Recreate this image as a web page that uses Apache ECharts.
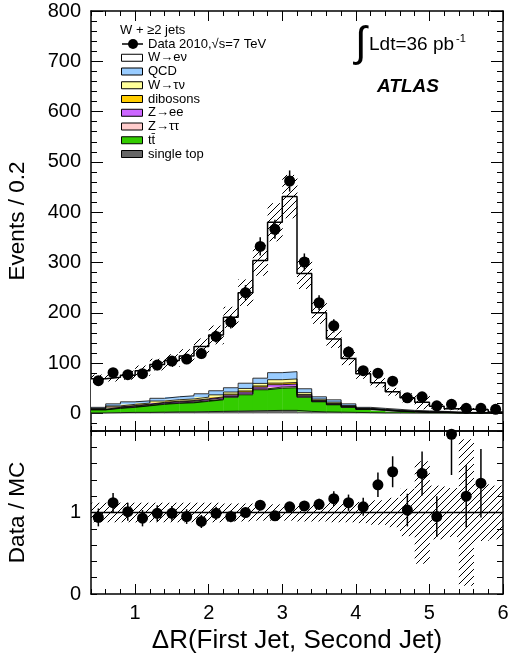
<!DOCTYPE html>
<html><head><meta charset="utf-8">
<script src="https://cdn.jsdelivr.net/npm/echarts@6/dist/echarts.min.js"></script>
<style>html,body{margin:0;padding:0;background:#fff}#c{width:508px;height:664px}</style>
</head><body><div id="c"></div>
<script>
// ---------------- data ----------------
const binLow = [0.4,0.6,0.8,1.0,1.2,1.4,1.6,1.8,2.0,2.2,2.4,2.6,2.8,3.0,3.2,3.4,3.6,3.8,4.0,4.2,4.4,4.6,4.8,5.0,5.2,5.4,5.6,5.8];
const binWidth = 0.2;
const dataCounts = [65,81,77,79,96,104,108,119,153,182,240,332,366,462,301,220,174,122,85,80,64,31,33,15,18,10,10,8];
const dataErr    = [8,9,9,9,10,10,10,11,12,13,15,18,19,21,17,15,13,11,9,9,8,6,6,4,4,3,3,3];
// MC stack, bottom to top
const singleTop = [1,1.5,2,2,2.5,3,3,3.5,4,4.5,5,5.5,6,6,4,3,2.5,2,1.5,1,1,0.8,0.6,0.5,0.4,0.3,0.2,0.2];
const ttbar     = [6,8.5,10,13,15.5,17,18,20.5,23,27.5,32,41.5,44,45,28,20,14.5,10,6.5,5,3,2.2,1.4,1.5,0.6,0.7,0.8,0.3];
const Ztautau   = [0.4,0.7,0.9,0.8,1,1,1.1,1.2,1.4,1.5,1.8,1.8,2.5,2.5,1.3,0.8,0.8,0.5,0.3,0.3,0.3,0.2,0.2,0.1,0.1,0.1,0.1,0];
const Zee       = [0.8,1.3,1.6,1.5,1.8,2,2.1,2.3,2.7,2.9,3.5,3.5,4.6,4.8,2.6,1.5,1.5,1,0.6,0.6,0.6,0.5,0.4,0.3,0.3,0.1,0.1,0.1];
const dibosons  = [0.5,0.9,1.1,1,1.2,1.3,1.4,1.5,1.8,1.9,2.3,2.3,3.1,3.2,1.7,1,1,0.7,0.4,0.4,0.4,0.3,0.3,0.2,0.2,0.1,0.1,0.1];
const Wtaunu    = [1.1,2,2.4,2.2,2.6,2.9,3.1,3.3,4,4.2,5,5,6.8,7,3.7,2.2,2.2,1.5,0.9,0.9,0.9,0.7,0.7,0.4,0.4,0.2,0.2,0.1];
const QCD       = [2.2,4.1,5,4.5,5.4,5.8,6.3,6.7,8.1,8.5,10.4,10.4,14,14.5,7.7,4.5,4.5,3.3,1.8,1.8,1.8,1.3,1.4,1,1,0.5,0.5,0.2];
const Wenu      = [57,53,53,60,67,72,79,94,111,140,180,234,299,348,229,167,121,90,67,51,35,25,17,10,6,6,5,2];
const mcRelUnc  = [0.12,0.12,0.12,0.12,0.12,0.12,0.12,0.12,0.12,0.11,0.11,0.1,0.1,0.1,0.11,0.11,0.12,0.12,0.13,0.15,0.18,0.29,0.63,0.33,0.3,0.9,0.35,0.33];
const ratio     = [0.94,1.12,1.01,0.93,0.99,0.99,0.95,0.89,0.99,0.95,1.00,1.09,0.96,1.07,1.08,1.10,1.17,1.12,1.07,1.34,1.50,1.03,1.48,0.95,1.96,1.20,1.36,null];
const ratioErr  = [0.11,0.12,0.11,0.10,0.10,0.09,0.09,0.08,0.08,0.07,0.06,0.06,0.05,0.05,0.06,0.07,0.09,0.10,0.11,0.15,0.19,0.20,0.27,0.25,0.50,0.38,0.42,null];

const topYLabels = [0,100,200,300,400,500,600,700,800];
const topYMinor  = [-20,20,40,60,80,120,140,160,180,220,240,260,280,320,340,360,380,420,440,460,480,520,540,560,580,620,640,660,680,720,740,760,780];
const botYLabels = [0,1];
const botYTicks  = [0,0.2,0.4,0.6,0.8,1,1.2,1.4,1.6,1.8,2];
const xMajor = [1,2,3,4,5,6];
const xMinor = [0.4,0.6,0.8,1.2,1.4,1.6,1.8,2.2,2.4,2.6,2.8,3.2,3.4,3.6,3.8,4.2,4.4,4.6,4.8,5.2,5.4,5.6,5.8];

const stackDefs = [
  {name:'single top', vals: singleTop, color:'#666666'},
  {name:'tt\u0304',   vals: ttbar,     color:'#33cc00'},
  {name:'Z\u2192\u03c4\u03c4', vals: Ztautau, color:'#ffcccc'},
  {name:'Z\u2192ee',  vals: Zee,       color:'#cc66ff'},
  {name:'dibosons',   vals: dibosons,  color:'#ffcc00'},
  {name:'W\u2192\u03c4\u03bd', vals: Wtaunu, color:'#ffff99'},
  {name:'QCD',        vals: QCD,       color:'#99ccff'},
  {name:'W\u2192e\u03bd', vals: Wenu,  color:'#ffffff'}
];

// ---------------- helpers ----------------
const FONT = '"Liberation Sans", Arial, Helvetica, sans-serif';
const hatch = document.createElement('canvas');
hatch.width = 7; hatch.height = 7;
(function(){
  const c = hatch.getContext('2d');
  c.strokeStyle = '#000'; c.lineWidth = 1;
  c.beginPath();
  c.moveTo(-1,8); c.lineTo(8,-1);
  c.stroke();
})();
const hatchFill = {image: hatch, repeat: 'repeat'};

function rectRender(fill) {
  return function (params, api) {
    const a = api.coord([api.value(0), api.value(3)]);
    const b = api.coord([api.value(1), api.value(2)]);
    return {type:'rect', shape:{x:a[0], y:a[1], width:b[0]-a[0]+0.4, height:b[1]-a[1]},
            style:{fill: fill, stroke: null}};
  };
}
function errRender(params, api) {
  const a = api.coord([api.value(0), api.value(1)]);
  const b = api.coord([api.value(0), api.value(2)]);
  return {type:'line', shape:{x1:a[0], y1:a[1], x2:b[0], y2:b[1]}, style:{stroke:'#000', lineWidth:1.5}};
}

// ---------------- series ----------------
const series = [];
let cum = binLow.map(() => 0);
const cumLevels = [];
stackDefs.forEach((s) => {
  const rows = binLow.map((x, i) => [x, x + binWidth, cum[i], cum[i] + s.vals[i]]);
  cum = cum.map((c, i) => c + s.vals[i]);
  cumLevels.push(cum.slice());
  series.push({type:'custom', name:s.name, xAxisIndex:0, yAxisIndex:0, renderItem: rectRender(s.color),
    data: rows, encode:{x:[0,1], y:[2,3]}, z:2, silent:true, clip:true});
});
cumLevels.forEach((lev, k) => {
  const pts = binLow.map((x, i) => [x, lev[i]]);
  pts.push([binLow[binLow.length-1] + binWidth, lev[lev.length-1]]);
  series.push({type:'line', xAxisIndex:0, yAxisIndex:0, step:'end', data: pts, symbol:'none',
    lineStyle:{color:'#000', width: k === cumLevels.length-1 ? 1.5 : 0.8}, z:3, silent:true});
});
const mcTotal = cumLevels[cumLevels.length-1];
series.push({type:'custom', xAxisIndex:0, yAxisIndex:0, renderItem: rectRender(hatchFill), z:4, silent:true,
  data: binLow.map((x, i) => [x, x + binWidth, mcTotal[i]*(1-mcRelUnc[i]), mcTotal[i]*(1+mcRelUnc[i])]),
  encode:{x:[0,1], y:[2,3]}});
series.push({type:'custom', xAxisIndex:0, yAxisIndex:0, renderItem: errRender, z:5, silent:true,
  data: binLow.map((x, i) => [x + binWidth/2, dataCounts[i]-dataErr[i], dataCounts[i]+dataErr[i]]),
  encode:{x:0, y:[1,2]}});
series.push({type:'scatter', xAxisIndex:0, yAxisIndex:0, symbol:'circle', symbolSize:11, z:6, silent:true,
  itemStyle:{color:'#000', opacity:1}, data: binLow.map((x, i) => [x + binWidth/2, dataCounts[i]])});

// ratio panel
series.push({type:'custom', xAxisIndex:4, yAxisIndex:4, renderItem: rectRender(hatchFill), z:4, silent:true,
  data: binLow.map((x, i) => [x, x + binWidth, Math.max(0, 1-mcRelUnc[i]), Math.min(2, 1+mcRelUnc[i])]),
  encode:{x:[0,1], y:[2,3]}});
series.push({type:'line', xAxisIndex:4, yAxisIndex:4, data:[[0.4,1],[6,1]], symbol:'none',
  lineStyle:{color:'#000', width:1.5}, z:5, silent:true});
series.push({type:'custom', xAxisIndex:4, yAxisIndex:4, renderItem: errRender, z:5, silent:true,
  data: binLow.map((x, i) => ratio[i] == null ? null : [x + binWidth/2, Math.max(0, ratio[i]-ratioErr[i]), Math.min(2, ratio[i]+ratioErr[i])]).filter(d => d),
  encode:{x:0, y:[1,2]}});
series.push({type:'scatter', xAxisIndex:4, yAxisIndex:4, symbol:'circle', symbolSize:11, z:6, silent:true,
  itemStyle:{color:'#000', opacity:1}, data: binLow.map((x, i) => ratio[i] == null ? null : [x + binWidth/2, ratio[i]]).filter(d => d)});

// ---------------- axes ----------------
const lblStyle = {color:'#000', fontSize:20, fontFamily:FONT};
function xAx(grid, pos, ticks, len, line, labels) {
  return {type:'value', gridIndex:grid, position:pos, min:0.4, max:6, splitLine:{show:false},
    axisLine:{show:line, onZero:false, lineStyle:{color:'#000', width:1.5}},
    axisTick:{show:true, inside:true, length:len, customValues:ticks, lineStyle:{color:'#000', width:1}},
    axisLabel: labels ? Object.assign({show:true, customValues:labels, margin:9}, lblStyle) : {show:false}};
}
function yAx(grid, pos, min, max, ticks, len, line, labels) {
  return {type:'value', gridIndex:grid, position:pos, min:min, max:max, splitLine:{show:false},
    axisLine:{show:line, onZero:false, lineStyle:{color:'#000', width:1.5}},
    axisTick:{show:true, inside:true, length:len, customValues:ticks, lineStyle:{color:'#000', width:1}},
    axisLabel: labels ? Object.assign({show:true, customValues:labels, margin:10}, lblStyle) : {show:false}};
}
const xAxes = [
  xAx(0,'bottom',xMajor,10,true,null),
  xAx(0,'bottom',xMinor,5,false,null),
  xAx(0,'top',xMajor,10,true,null),
  xAx(0,'top',xMinor,5,false,null),
  xAx(1,'bottom',xMajor,10,true,xMajor),
  xAx(1,'bottom',xMinor,5,false,null),
  xAx(1,'top',xMajor,10,true,null),
  xAx(1,'top',xMinor,5,false,null)
];
xAxes[4].name = '\u0394R(First Jet, Second Jet)';
xAxes[4].nameLocation = 'middle';
xAxes[4].nameGap = 34;
xAxes[4].nameTextStyle = {color:'#000', fontSize:26, fontFamily:FONT};

const yAxes = [
  yAx(0,'left',-35,800,topYLabels,12,true,topYLabels),
  yAx(0,'left',-35,800,topYMinor,6,false,null),
  yAx(0,'right',-35,800,topYLabels,12,true,null),
  yAx(0,'right',-35,800,topYMinor,6,false,null),
  yAx(1,'left',0,2,botYTicks,6,true,botYLabels),
  yAx(1,'right',0,2,botYTicks,6,true,null)
];
yAxes[0].name = 'Events / 0.2';
yAxes[0].nameLocation = 'middle';
yAxes[0].nameGap = 62;
yAxes[0].nameTextStyle = {color:'#000', fontSize:22.5, fontFamily:FONT};
yAxes[4].name = 'Data / MC';
yAxes[4].nameLocation = 'middle';
yAxes[4].nameGap = 62;
yAxes[4].nameTextStyle = {color:'#000', fontSize:22.5, fontFamily:FONT};

// ---------------- legend / labels (graphic) ----------------
const legendItems = ['W\u2192e\u03bd','QCD','W\u2192\u03c4\u03bd','dibosons','Z\u2192ee','Z\u2192\u03c4\u03c4','tt\u0304','single top'];
const legendColors = ['#ffffff','#99ccff','#ffff99','#ffcc00','#cc66ff','#ffcccc','#33cc00','#666666'];
const g = [];
const tFont = '13px ' + FONT;
g.push({type:'text', x:120, y:30, style:{text:'W + \u22652 jets', font:tFont, fill:'#000', verticalAlign:'middle'}});
g.push({type:'line', shape:{x1:122, y1:44, x2:143, y2:44}, style:{stroke:'#000', lineWidth:1.5}});
g.push({type:'circle', shape:{cx:133, cy:44, r:5}, style:{fill:'#000'}});
g.push({type:'text', x:148, y:44, style:{text:'Data 2010,\u221as=7 TeV', font:tFont, fill:'#000', verticalAlign:'middle'}});
legendItems.forEach((name, k) => {
  const cy = 44 + 13.75*(k+1);
  g.push({type:'rect', shape:{x:121.5, y:cy-3.5, width:21, height:7}, style:{fill:legendColors[k], stroke:'#000', lineWidth:1}});
  g.push({type:'text', x:148, y:cy, style:{text:name, font:tFont, fill:'#000', verticalAlign:'middle'}});
});
g.push({type:'text', x:355, y:44, style:{text:'\u222b', font:'42px ' + FONT, fill:'#000', verticalAlign:'middle'}});
g.push({type:'text', x:369, y:45, style:{text:'Ldt=36 pb', font:'19px ' + FONT, fill:'#000', verticalAlign:'middle'}});
g.push({type:'text', x:456, y:39, style:{text:'-1', font:'11px ' + FONT, fill:'#000', verticalAlign:'middle'}});
g.push({type:'text', x:377, y:87, style:{text:'ATLAS', font:'italic bold 19px ' + FONT, fill:'#000', verticalAlign:'middle'}});

const chart = echarts.init(document.getElementById('c'), null, {renderer:'canvas'});
chart.setOption({
  animation:false,
  backgroundColor:'#fff',
  grid:[
    {left:91, right:5, top:11, height:420, outerBoundsMode:'none', containLabel:false},
    {left:91, right:5, top:431, height:163, outerBoundsMode:'none', containLabel:false}
  ],
  xAxis: xAxes,
  yAxis: yAxes,
  series: series,
  graphic: g
});
</script></body></html>
